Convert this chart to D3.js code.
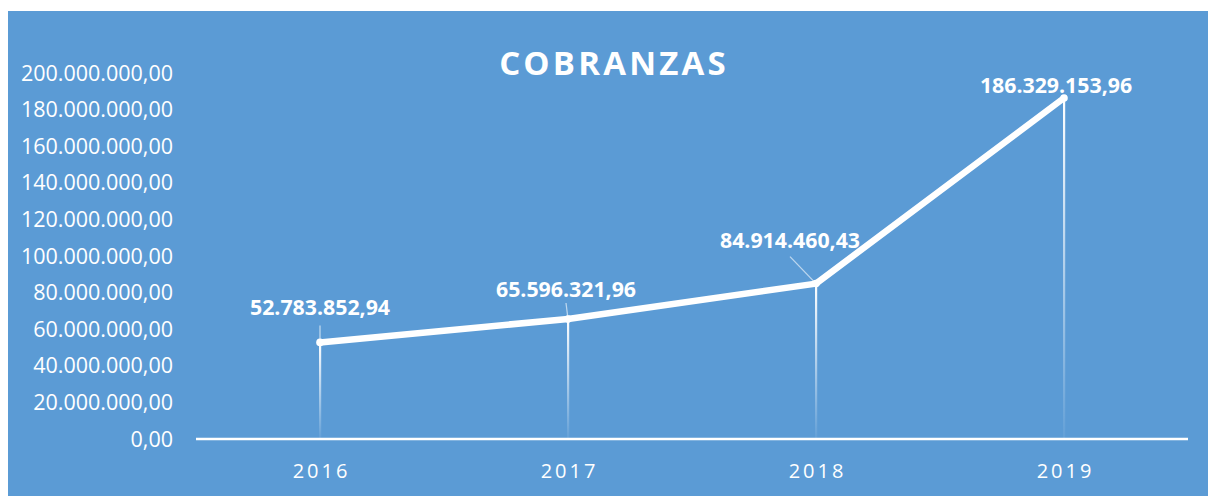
<!DOCTYPE html>
<html><head><meta charset="utf-8">
<script src="https://cdn.jsdelivr.net/npm/d3@7"></script>
<style>body{margin:0;background:#fff}svg{display:block}</style>
</head><body>
<svg id="c" width="1208" height="497"></svg>
<script>
const categories = ["2016","2017","2018","2019"];
const values = [52783852.94, 65596321.96, 84914460.43, 186329153.96];
const valueLabels = ["52.783.852,94","65.596.321,96","84.914.460,43","186.329.153,96"];
const yTicks = [0,20000000,40000000,60000000,80000000,100000000,120000000,140000000,160000000,180000000,200000000];
const title = "COBRANZAS";

const svg = d3.select("#c");
const font = "'Open Sans', sans-serif";
svg.append("rect").attr("x",8).attr("y",11).attr("width",1200).attr("height",485).attr("fill","#5B9BD5");

const x = d3.scaleBand().domain(categories).range([196,1188]);
const y = d3.scaleLinear().domain([0,200000000]).range([439,73]);

const defs = svg.append("defs");
const g = defs.append("linearGradient").attr("id","drop").attr("x1",0).attr("y1",0).attr("x2",0).attr("y2",1);
g.append("stop").attr("offset","0%").attr("stop-color","#fff").attr("stop-opacity",1);
g.append("stop").attr("offset","100%").attr("stop-color","#fff").attr("stop-opacity",0.05);

// title
svg.append("text").attr("x",614).attr("y",75).attr("text-anchor","middle")
  .attr("fill","#fff").attr("font-family",font).attr("font-weight","bold")
  .attr("font-size",33).attr("letter-spacing",3.2).text(title);

// y axis labels
const fmt = v => {
  if (v===0) return "0,00";
  return d3.format(",")(v).replace(/,/g,".")+",00";
};
svg.append("g").selectAll("text").data(yTicks).join("text")
  .attr("x",173).attr("y",d=>y(d)+7.5).attr("text-anchor","end")
  .attr("fill","#fff").attr("font-family",font).attr("font-size",21.5)
  .text(fmt);

// drop lines
const cx = d => x(d)+x.bandwidth()/2;
svg.append("g").selectAll("rect").data(categories).join("rect")
  .attr("x",d=>cx(d)-1).attr("width",2.2)
  .attr("y",(d,i)=>y(values[i])).attr("height",(d,i)=>y(0)-y(values[i]))
  .attr("fill","url(#drop)");

// x axis
svg.append("line").attr("x1",196).attr("x2",1188).attr("y1",439).attr("y2",439)
  .attr("stroke","#fff").attr("stroke-width",2.5);
svg.append("g").selectAll("text").data(categories).join("text")
  .attr("x",d=>cx(d)+1.5).attr("y",478).attr("text-anchor","middle")
  .attr("fill","#fff").attr("font-family",font).attr("font-size",20)
  .attr("letter-spacing",3).text(d=>d);

// leader lines
const leaders = [
  {i:0, x1:0, y1:-17},
  {i:1, x1:-2, y1:-16},
  {i:2, x1:-26, y1:-27}
];
svg.append("g").selectAll("line").data(leaders).join("line")
  .attr("x1",d=>cx(categories[d.i])+d.x1).attr("y1",d=>y(values[d.i])+d.y1)
  .attr("x2",d=>cx(categories[d.i])).attr("y2",d=>y(values[d.i]))
  .attr("stroke","#BDD7EE").attr("stroke-width",1.3);

// line
const line = d3.line().x((d,i)=>cx(categories[i])).y(d=>y(d));
svg.append("path").datum(values).attr("d",line).attr("fill","none")
  .attr("stroke","#fff").attr("stroke-width",6.5).attr("stroke-linejoin","round");
svg.append("g").selectAll("circle").data(values).join("circle")
  .attr("cx",(d,i)=>cx(categories[i])).attr("cy",d=>y(d)).attr("r",3.8).attr("fill","#fff");

// data labels
const lblOff = [{dx:0,dy:-27},{dx:-2,dy:-22},{dx:-26,dy:-36},{dx:-8,dy:-5}];
svg.append("g").selectAll("text").data(values).join("text")
  .attr("x",(d,i)=>cx(categories[i])+lblOff[i].dx).attr("y",(d,i)=>y(d)+lblOff[i].dy)
  .attr("text-anchor","middle").attr("fill","#fff").attr("font-family",font)
  .attr("font-weight","bold").attr("font-size",21.3).text((d,i)=>valueLabels[i]);
</script>
</body></html>
